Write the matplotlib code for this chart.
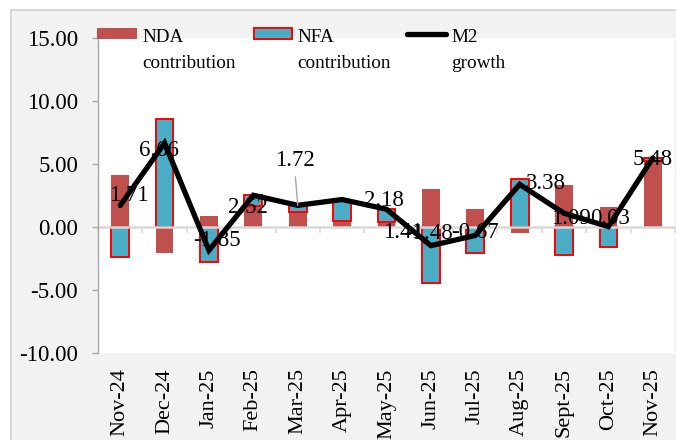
'''
M2 growth with NDA and NFA contributions, monthly bars + line
'''
import matplotlib
matplotlib.use('Agg')
import matplotlib.pyplot as plt
from matplotlib.patches import Rectangle
from matplotlib.lines import Line2D
import numpy as np

months = ['Nov-24', 'Dec-24', 'Jan-25', 'Feb-25', 'Mar-25', 'Apr-25', 'May-25',
          'Jun-25', 'Jul-25', 'Aug-25', 'Sept-25', 'Oct-25', 'Nov-25']
nda = [4.10, -2.05, 0.85, 1.70, 1.20, 0.50, 0.37, 3.00, 1.40, -0.45, 3.35, 1.60, 5.23]
nfa = [-2.40, 8.60, -2.75, 0.82, 0.52, 1.68, 1.04, -4.48, -2.07, 3.83, -2.26, -1.62, 0.25]
m2 = [1.71, 6.66, -1.85, 2.52, 1.72, 2.18, 1.41, -1.48, -0.67, 3.38, 1.09, 0.03, 5.48]

# label offsets (points) picked to sit like the excel labels
lab_dx = [6, -4, 6, -4, -2, 30, 12, -1, 0, 19, 5, 1, 0]
lab_dy = [7, -5, 7, -9, 32, -1, -17, 9, 2, 1, -4, 6, -1]

NDA_COL = '#C0504D'
NFA_COL = '#4BACC6'
GRID = '#d9d9d9'
W, H = 676, 440

plt.rcParams['font.family'] = ['Liberation Serif', 'DejaVu Serif']


def px(x, y):
    # pixel position (from top left) -> figure fraction
    return x / W, 1 - y / H


fig = plt.figure(figsize=(W / 100, H / 100), dpi=100)
fig.patch.set_facecolor('white')

# grey chart area
x0, y0 = px(11, 10)
fig.add_artist(Rectangle((x0, -0.1), 1.0, y0 + 0.1, transform=fig.transFigure,
                         facecolor='#f2f2f2', edgecolor='#d0d0d0', linewidth=1.2, zorder=0))

l, t = px(98, 38)
r, b = px(675, 353)
ax = fig.add_axes([l, b, r - l, t - b])
ax.set_facecolor('white')

x = np.arange(len(months))
nda_a = np.array(nda)
nfa_a = np.array(nfa)
# excel stacking: positives above zero in series order, negatives below
nfa_bottom = np.where(nfa_a >= 0, np.maximum(nda_a, 0), np.minimum(nda_a, 0))

ax.bar(x, nda_a, width=0.4, color=NDA_COL, zorder=2)
ax.bar(x, nfa_a, width=0.4, bottom=nfa_bottom, color=NFA_COL,
       edgecolor='#ff0000', linewidth=1.4, zorder=2)

ax.axhline(0, color=GRID, linewidth=1.8, zorder=2.5)
ax.plot(x, m2, color='black', linewidth=3.8, solid_joinstyle='miter',
        solid_capstyle='round', zorder=4)

for i in range(len(m2)):
    if i == 4:
        ax.annotate('{0:.2f}'.format(m2[i]), (x[i], m2[i]),
                    xytext=(lab_dx[i], lab_dy[i]), textcoords='offset points',
                    ha='center', va='center', fontsize=16.5, zorder=5,
                    arrowprops=dict(arrowstyle='-', color='#a6a6a6', lw=1,
                                    relpos=(0.5, 0), shrinkA=2, shrinkB=0))
    else:
        ax.annotate('{0:.2f}'.format(m2[i]), (x[i], m2[i]),
                    xytext=(lab_dx[i], lab_dy[i]), textcoords='offset points',
                    ha='center', va='center', fontsize=16.5, zorder=5)

ax.set_xlim(-0.5, len(months) - 0.5)
ax.set_ylim(-10, 15)
ax.set_yticks(np.arange(-10, 16, 5))
ax.yaxis.set_major_formatter(matplotlib.ticker.FormatStrFormatter('%.2f'))
ax.set_xticks(x)
ax.set_xticklabels(months, rotation=90, fontsize=16)
ax.tick_params(axis='x', length=0, pad=11)
ax.tick_params(axis='y', labelsize=16.5, length=4.3, width=1, color='#a6a6a6',
               direction='out', pad=10)

for s in ['top', 'right', 'bottom']:
    ax.spines[s].set_visible(False)
ax.spines['left'].set_color('#a6a6a6')
ax.spines['left'].set_linewidth(1)

# category separators on the zero axis
sec = ax.secondary_xaxis(0, transform=ax.transData)
sec.set_xticks(np.arange(len(months) + 1) - 0.5)
sec.tick_params(axis='x', length=4.5, width=1.2, color=GRID, labelbottom=False,
                direction='out')
sec.spines['bottom'].set_visible(False)

# legend drawn by hand so the two line labels sit like excel
fig.add_artist(Rectangle(px(97, 39), 40 / W, 11 / H, transform=fig.transFigure,
                         facecolor=NDA_COL, edgecolor='none'))
fig.add_artist(Rectangle(px(254, 39), 38 / W, 11 / H, transform=fig.transFigure,
                         facecolor=NFA_COL, edgecolor='#ff0000', linewidth=1.4))
lx0, ly = px(407, 34)
lx1, _ = px(446, 34)
fig.add_artist(Line2D([lx0, lx1], [ly, ly], transform=fig.transFigure,
                      color='black', linewidth=3.8, solid_capstyle='round'))
legend_items = [(142, 'NDA', 'contribution'), (297, 'NFA', 'contribution'),
                (451, 'M2', 'growth')]
for xp, line1, line2 in legend_items:
    fig.text(*px(xp, 42), line1, fontsize=13.8, va='baseline', ha='left')
    fig.text(*px(xp, 68), line2, fontsize=13.8, va='baseline', ha='left')

fig.savefig('out.png', dpi=100)
plt.close()
